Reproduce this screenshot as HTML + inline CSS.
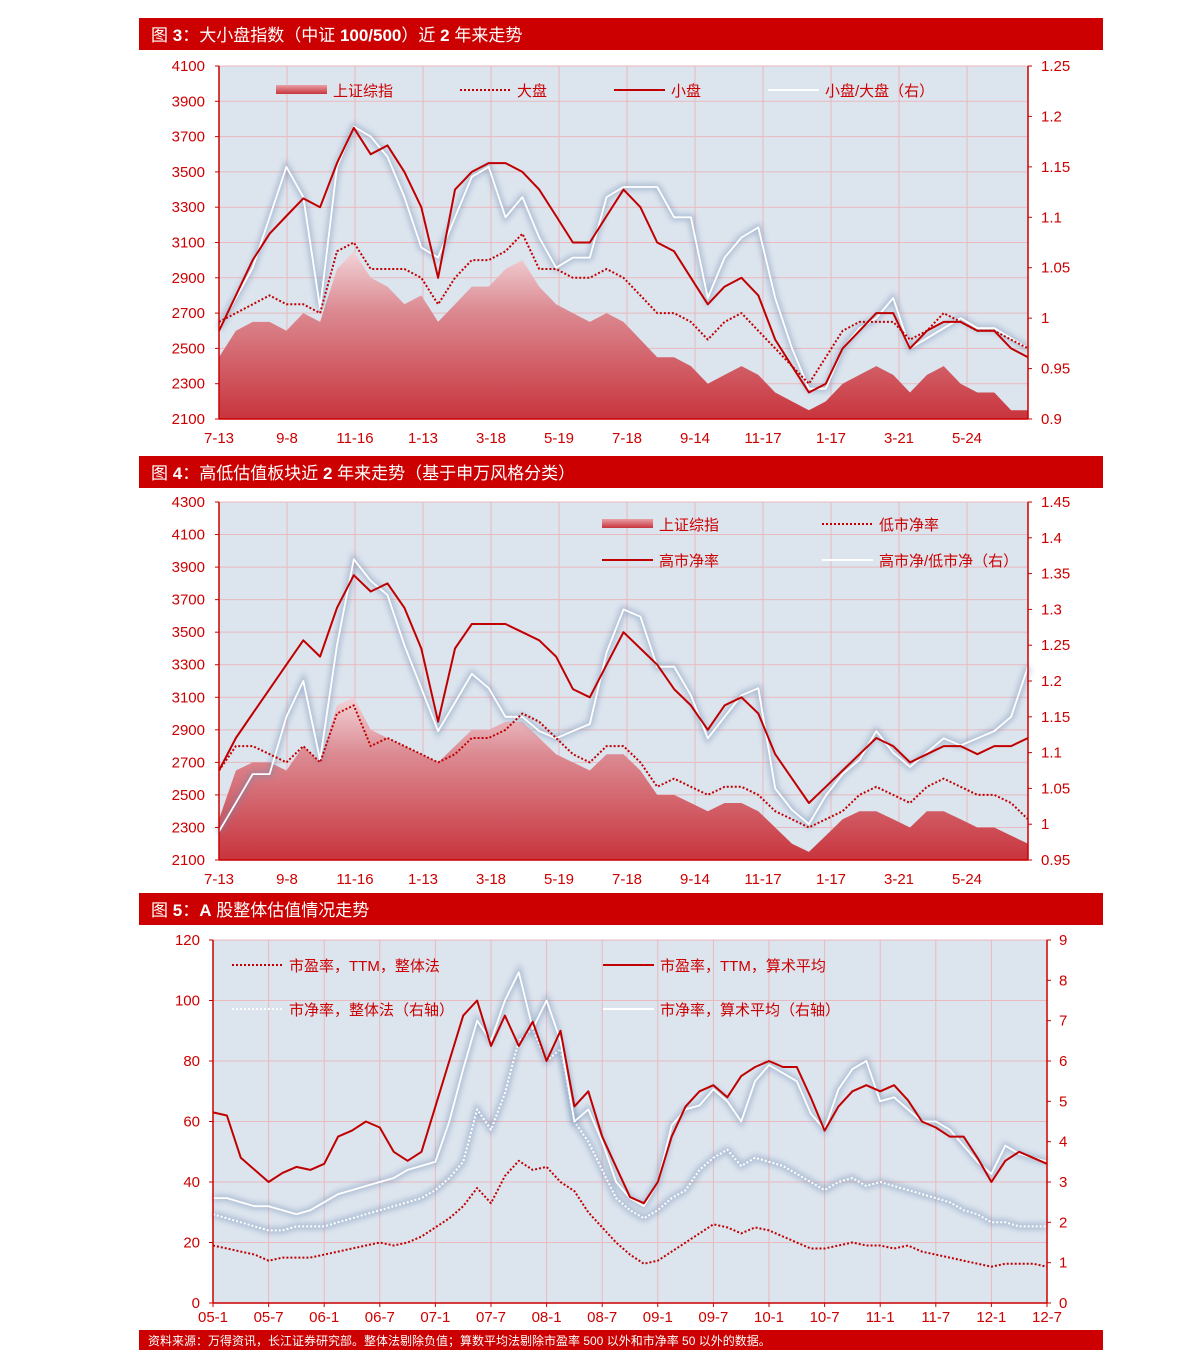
<!DOCTYPE html>
<html><head><meta charset="utf-8">
<style>
html,body{margin:0;padding:0;background:#fff;}
svg{display:block;font-family:"Liberation Sans","Noto Sans CJK SC",sans-serif;}
</style></head>
<body>
<svg id="root" width="1191" height="1368" viewBox="0 0 1191 1368" xmlns="http://www.w3.org/2000/svg">
<defs>
<linearGradient id="areaGrad" x1="0" y1="0" x2="0" y2="1">
<stop offset="0" stop-color="#f1d4d8"/><stop offset="0.35" stop-color="#dc8a92"/><stop offset="1" stop-color="#c8343d"/>
</linearGradient>
<linearGradient id="swGrad" x1="0" y1="0" x2="0" y2="1">
<stop offset="0" stop-color="#e9a0a6"/><stop offset="1" stop-color="#c8343d"/>
</linearGradient>
<filter id="glow" x="-5%" y="-5%" width="110%" height="110%"><feGaussianBlur stdDeviation="3"/></filter>
</defs>
</svg>
<script>
// ---------- Chart 1 data ----------
const c1Labels=["7-13","9-8","11-16","1-13","3-18","5-19","7-18","9-14","11-17","1-17","3-21","5-24"];
const c1LeftTicks=[2100,2300,2500,2700,2900,3100,3300,3500,3700,3900,4100];
const c1RightTicks=[0.9,0.95,1,1.05,1.1,1.15,1.2,1.25];
const c1Composite=[2450,2600,2650,2650,2600,2700,2650,2950,3050,2900,2850,2750,2800,2650,2750,2850,2850,2950,3000,2850,2750,2700,2650,2700,2650,2550,2450,2450,2400,2300,2350,2400,2350,2250,2200,2150,2200,2300,2350,2400,2350,2250,2350,2400,2300,2250,2250,2150,2150];
const c1Large=[2650,2700,2750,2800,2750,2750,2700,3050,3100,2950,2950,2950,2900,2750,2900,3000,3000,3050,3150,2950,2950,2900,2900,2950,2900,2800,2700,2700,2650,2550,2650,2700,2600,2500,2400,2300,2450,2600,2650,2650,2650,2550,2600,2700,2650,2600,2600,2550,2500];
const c1Small=[2600,2800,3000,3150,3250,3350,3300,3550,3750,3600,3650,3500,3300,2900,3400,3500,3550,3550,3500,3400,3250,3100,3100,3250,3400,3300,3100,3050,2900,2750,2850,2900,2800,2550,2400,2250,2300,2500,2600,2700,2700,2500,2600,2650,2650,2600,2600,2500,2450];
const c1Ratio=[0.99,1.02,1.05,1.10,1.15,1.12,1.01,1.15,1.19,1.18,1.16,1.12,1.07,1.06,1.10,1.14,1.15,1.10,1.12,1.08,1.05,1.06,1.06,1.12,1.13,1.13,1.13,1.10,1.10,1.02,1.06,1.08,1.09,1.02,0.97,0.93,0.93,0.97,0.99,1.00,1.02,0.97,0.98,0.99,1.00,0.99,0.99,0.98,0.97];
// ---------- Chart 2 data ----------
const c2LeftTicks=[2100,2300,2500,2700,2900,3100,3300,3500,3700,3900,4100,4300];
const c2RightTicks=[0.95,1,1.05,1.1,1.15,1.2,1.25,1.3,1.35,1.4,1.45];
const c2Composite=[2350,2650,2700,2700,2650,2800,2700,3050,3100,2900,2850,2800,2750,2700,2800,2900,2900,2950,2950,2850,2750,2700,2650,2750,2750,2650,2500,2500,2450,2400,2450,2450,2400,2300,2200,2150,2250,2350,2400,2400,2350,2300,2400,2400,2350,2300,2300,2250,2200];
const c2LowPB=[2650,2800,2800,2750,2700,2800,2700,3000,3050,2800,2850,2800,2750,2700,2750,2850,2850,2900,3000,2950,2850,2750,2700,2800,2800,2700,2550,2600,2550,2500,2550,2550,2500,2400,2350,2300,2350,2400,2500,2550,2500,2450,2550,2600,2550,2500,2500,2450,2350];
const c2HighPB=[2650,2850,3000,3150,3300,3450,3350,3650,3850,3750,3800,3650,3400,2950,3400,3550,3550,3550,3500,3450,3350,3150,3100,3300,3500,3400,3300,3150,3050,2900,3050,3100,3000,2750,2600,2450,2550,2650,2750,2850,2800,2700,2750,2800,2800,2750,2800,2800,2850];
const c2Ratio=[0.99,1.03,1.07,1.07,1.15,1.2,1.09,1.25,1.37,1.34,1.32,1.25,1.19,1.13,1.17,1.21,1.19,1.15,1.15,1.13,1.12,1.13,1.14,1.24,1.30,1.29,1.22,1.22,1.18,1.12,1.15,1.18,1.19,1.05,1.02,1.0,1.04,1.07,1.09,1.13,1.10,1.08,1.10,1.12,1.11,1.12,1.13,1.15,1.22];
// ---------- Chart 3 data ----------
const c3Labels=["05-1","05-7","06-1","06-7","07-1","07-7","08-1","08-7","09-1","09-7","10-1","10-7","11-1","11-7","12-1","12-7"];
const c3LeftTicks=[0,20,40,60,80,100,120];
const c3RightTicks=[0,1,2,3,4,5,6,7,8,9];
const c3PEWhole=[19,18,17,16,14,15,15,15,16,17,18,19,20,19,20,22,25,28,32,38,33,42,47,44,45,40,37,30,25,20,16,13,14,17,20,23,26,25,23,25,24,22,20,18,18,19,20,19,19,18,19,17,16,15,14,13,12,13,13,13,12];
const c3PEMean=[63,62,48,44,40,43,45,44,46,55,57,60,58,50,47,50,65,80,95,100,85,95,85,93,80,90,65,70,55,45,35,33,40,55,65,70,72,68,75,78,80,78,78,68,57,65,70,72,70,72,67,60,58,55,55,48,40,47,50,48,46];
const c3PBWhole=[2.2,2.1,2.0,1.9,1.8,1.8,1.9,1.9,1.9,2.0,2.1,2.2,2.3,2.4,2.5,2.6,2.8,3.1,3.5,4.8,4.3,5.2,6.5,6.8,6.0,6.3,4.5,4.0,3.3,2.6,2.3,2.1,2.3,2.6,2.8,3.3,3.6,3.8,3.4,3.6,3.5,3.4,3.2,3.0,2.8,3.0,3.1,2.9,3.0,2.9,2.8,2.7,2.6,2.5,2.3,2.2,2.0,2.0,1.9,1.9,1.9];
const c3PBMean=[2.6,2.6,2.5,2.4,2.4,2.3,2.2,2.3,2.5,2.7,2.8,2.9,3.0,3.1,3.3,3.4,3.5,4.5,5.8,7.0,6.5,7.5,8.2,6.8,7.5,6.5,4.5,4.8,4.0,3.0,2.6,2.4,3.0,4.4,4.8,4.9,5.3,5.0,4.5,5.5,5.9,5.7,5.5,4.7,4.3,5.3,5.8,6.0,5.0,5.1,4.8,4.5,4.5,4.3,3.9,3.5,3.2,3.9,3.7,3.6,3.5];

const NS="http://www.w3.org/2000/svg";
const root=document.getElementById('root');
const RED="#cc0000";
function mk(tag,attrs,parent){const e=document.createElementNS(NS,tag);for(const k in attrs)e.setAttribute(k,attrs[k]);(parent||root).appendChild(e);return e;}
function scale(d0,d1,r0,r1){return v=>r0+(v-d0)*(r1-r0)/(d1-d0);}
function pathD(arr,xf,yf){return arr.map((v,i)=>(i?"L":"M")+xf(i,arr.length).toFixed(1)+" "+yf(v).toFixed(1)).join(" ");}

function header(y,parts,name){
  const g=mk('g',{});
  
  
  mk('rect',{x:139,y:y,width:964,height:32,fill:RED},g);
  const t=mk('text',{x:151,y:y+23,fill:"#fff","font-size":17},g);
  parts.forEach(p=>{const s=mk('tspan',{},t);if(p[1])s.setAttribute('font-weight','bold');s.textContent=p[0];});
}
function drawLine(g,d,kind,name){
  if(kind==='white'||kind==='whitedot'){
    const sh=mk('path',{d:d,fill:"none",stroke:"#6a88b0","stroke-width":6,opacity:0.45,filter:"url(#glow)"},g);
    
    
  }
  const a={d:d,fill:"none","stroke-linejoin":"round"};
  if(kind==='red'){a.stroke="#c00000";a["stroke-width"]=2;}
  if(kind==='reddot'){a.stroke="#c00000";a["stroke-width"]=2;a["stroke-dasharray"]="2 2";}
  if(kind==='white'){a.stroke="#ffffff";a["stroke-width"]=1.8;}
  if(kind==='whitedot'){a.stroke="#ffffff";a["stroke-width"]=2;a["stroke-dasharray"]="2 2";}
  const p=mk('path',a,g);
  
  
}
function legendItem(g,x,y,kind,label,name){
  const lg=mk('g',{},g);
  
  
  if(kind==='area'){mk('rect',{x:x,y:y-5,width:51,height:9,fill:"url(#swGrad)"},lg);}
  else{
    const a={x1:x,y1:y,x2:x+51,y2:y,"stroke-width":2};
    a.stroke=(kind==='red'||kind==='reddot')?"#c00000":"#ffffff";
    if(kind.indexOf('dot')>=0)a["stroke-dasharray"]="2 2";
    mk('line',a,lg);
  }
  const t=mk('text',{x:x+57,y:y+6,fill:RED,"font-size":15},lg);
  t.textContent=label;
}

function indexChart(cfg){
  const g=mk('g',{});
  
  
  const L=219,R=1028,T=cfg.top,B=cfg.bottom;
  const yl=scale(cfg.lt[0],cfg.lt[cfg.lt.length-1],B,T);
  const yr=scale(cfg.rt[0],cfg.rt[cfg.rt.length-1],B,T);
  const xf=(i,n)=>L+i*(R-L)/(n-1);
  const bg=mk('rect',{x:L,y:T,width:R-L,height:B-T,fill:"#dce4ee"},g);
  
  
  cfg.lt.forEach(v=>mk('line',{x1:L,x2:R,y1:yl(v),y2:yl(v),stroke:"#e9b9bd","stroke-width":1},g));
  const step=68;
  c1Labels.forEach((lb,i)=>{
    const x=L+i*step;
    mk('line',{x1:x,x2:x,y1:T,y2:B,stroke:"#e9b9bd","stroke-width":1},g);
    const t=mk('text',{x:x,y:B+24,fill:RED,"font-size":15,"text-anchor":"middle"},g);
    
    
    t.textContent=lb;
  });
  const d=pathD(cfg.area,xf,yl)+` L${R} ${B} L${L} ${B} Z`;
  const ar=mk('path',{d:d,fill:"url(#areaGrad)"},g);
  
  
  drawLine(g,pathD(cfg.ratio,xf,yr),'white','ratio-line');
  drawLine(g,pathD(cfg.dot,xf,yl),'reddot',cfg.dotName);
  drawLine(g,pathD(cfg.solid,xf,yl),'red',cfg.solidName);
  mk('line',{x1:L,x2:L,y1:T,y2:B,stroke:RED,"stroke-width":1.5},g);
  mk('line',{x1:R,x2:R,y1:T,y2:B,stroke:RED,"stroke-width":1.5},g);
  mk('line',{x1:L,x2:R,y1:B,y2:B,stroke:RED,"stroke-width":1.5},g);
  cfg.lt.forEach(v=>{
    mk('line',{x1:L-4,x2:L,y1:yl(v),y2:yl(v),stroke:RED},g);
    const t=mk('text',{x:205,y:yl(v)+5,fill:RED,"font-size":15,"text-anchor":"end"},g);
    
    
    t.textContent=v;
  });
  cfg.rt.forEach(v=>{
    mk('line',{x1:R,x2:R+4,y1:yr(v),y2:yr(v),stroke:RED},g);
    const t=mk('text',{x:1041,y:yr(v)+5,fill:RED,"font-size":15},g);
    
    
    t.textContent=String(v);
  });
  cfg.legend(g);
}

header(18,[["图 "],["3",1],["：大小盘指数（中证 "],["100/500",1],["）近 "],["2",1],[" 年来走势"]],"chart3-title-bar");
indexChart({name:"size-index-chart",top:66,bottom:419,lt:c1LeftTicks,rt:c1RightTicks,area:c1Composite,dot:c1Large,solid:c1Small,ratio:c1Ratio,dotName:"large-cap-line",solidName:"small-cap-line",
 legend:g=>{legendItem(g,276,90,'area','上证综指','legend-composite');legendItem(g,460,90,'reddot','大盘','legend-large-cap');legendItem(g,614,90,'red','小盘','legend-small-cap');legendItem(g,768,90,'white','小盘/大盘（右）','legend-ratio');}});

header(456,[["图 "],["4",1],["：高低估值板块近 "],["2",1],[" 年来走势（基于申万风格分类）"]],"chart4-title-bar");
indexChart({name:"valuation-sector-chart",top:502,bottom:860,lt:c2LeftTicks,rt:c2RightTicks,area:c2Composite,dot:c2LowPB,solid:c2HighPB,ratio:c2Ratio,dotName:"low-pb-line",solidName:"high-pb-line",
 legend:g=>{legendItem(g,602,524,'area','上证综指','legend-composite');legendItem(g,822,524,'reddot','低市净率','legend-low-pb');legendItem(g,602,560,'red','高市净率','legend-high-pb');legendItem(g,822,560,'white','高市净/低市净（右）','legend-ratio');}});

header(893,[["图 "],["5",1],["："],["A",1],[" 股整体估值情况走势"]],"chart5-title-bar");
(function(){
  const g=mk('g',{});
  
  
  const L=213,R=1047,T=940,B=1303;
  const yl=scale(0,120,B,T), yr=scale(0,9,B,T);
  const xf=(i,n)=>L+i*(R-L)/(n-1);
  const bg=mk('rect',{x:L,y:T,width:R-L,height:B-T,fill:"#dce4ee"},g);
  
  
  c3LeftTicks.forEach(v=>mk('line',{x1:L,x2:R,y1:yl(v),y2:yl(v),stroke:"#e9b9bd"},g));
  const st=(R-L)/(c3Labels.length-1);
  c3Labels.forEach((lb,i)=>{
    const x=L+i*st;
    mk('line',{x1:x,x2:x,y1:T,y2:B,stroke:"#e9b9bd"},g);
    mk('line',{x1:x,x2:x,y1:B,y2:B+4,stroke:RED},g);
    const t=mk('text',{x:x,y:B+19,fill:RED,"font-size":15,"text-anchor":"middle"},g);
    
    
    t.textContent=lb;
  });
  drawLine(g,pathD(c3PBWhole,xf,yr),'whitedot','pb-whole-line');
  drawLine(g,pathD(c3PBMean,xf,yr),'white','pb-mean-line');
  drawLine(g,pathD(c3PEWhole,xf,yl),'reddot','pe-whole-line');
  drawLine(g,pathD(c3PEMean,xf,yl),'red','pe-mean-line');
  mk('line',{x1:L,x2:L,y1:T,y2:B,stroke:RED,"stroke-width":1.5},g);
  mk('line',{x1:R,x2:R,y1:T,y2:B,stroke:RED,"stroke-width":1.5},g);
  mk('line',{x1:L,x2:R,y1:B,y2:B,stroke:RED,"stroke-width":1.5},g);
  c3LeftTicks.forEach(v=>{
    mk('line',{x1:L-4,x2:L,y1:yl(v),y2:yl(v),stroke:RED},g);
    const t=mk('text',{x:200,y:yl(v)+5,fill:RED,"font-size":15,"text-anchor":"end"},g);
    
    
    t.textContent=v;
  });
  c3RightTicks.forEach(v=>{
    mk('line',{x1:R,x2:R+4,y1:yr(v),y2:yr(v),stroke:RED},g);
    const t=mk('text',{x:1059,y:yr(v)+5,fill:RED,"font-size":15},g);
    
    
    t.textContent=v;
  });
  legendItem(g,232,965,'reddot','市盈率，TTM，整体法','legend-pe-whole');
  legendItem(g,603,965,'red','市盈率，TTM，算术平均','legend-pe-mean');
  legendItem(g,232,1009,'whitedot','市净率，整体法（右轴）','legend-pb-whole');
  legendItem(g,603,1009,'white','市净率，算术平均（右轴）','legend-pb-mean');
})();

const fg=mk('g',{});


mk('rect',{x:139,y:1330,width:964,height:20,fill:RED},fg);
const ft=mk('text',{x:148,y:1345,fill:"#fff","font-size":12},fg);
ft.textContent="资料来源：万得资讯，长江证券研究部。整体法剔除负值；算数平均法剔除市盈率 500 以外和市净率 50 以外的数据。";
</script>
</body></html>
